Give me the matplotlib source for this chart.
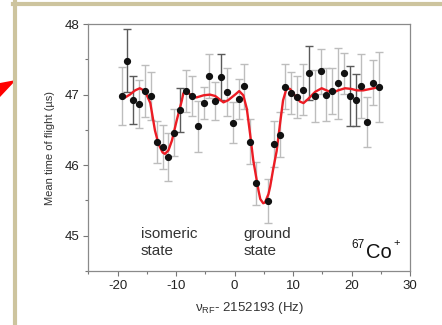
import numpy as np
import matplotlib
matplotlib.use("Agg")
import matplotlib.pyplot as plt
from matplotlib.patches import Polygon
from matplotlib.lines import Line2D
from matplotlib.ticker import MultipleLocator

plt.rcParams['font.family'] = ['Liberation Sans', 'DejaVu Sans']
plt.rcParams['mathtext.fontset'] = 'custom'
plt.rcParams['mathtext.rm'] = 'Liberation Sans'
plt.rcParams['mathtext.it'] = 'Liberation Sans:italic'
plt.rcParams['axes.unicode_minus'] = False

# measured points (frequency offset in Hz, mean TOF in us, error)
freq = [-19.3, -18.3, -17.3, -16.3, -15.3, -14.3, -13.3, -12.3, -11.3, -10.3,
        -9.3, -8.3, -7.3, -6.3, -5.3, -4.3, -3.3, -2.3, -1.3, -0.3,
        0.7, 1.7, 2.7, 3.7, 5.7, 6.7, 7.7, 8.7, 9.7,
        10.7, 11.7, 12.7, 13.7, 14.7, 15.7, 16.7, 17.7, 18.7, 19.7,
        20.7, 21.7, 22.7, 23.7, 24.7]
tof = [46.98, 47.48, 46.93, 46.87, 47.05, 46.98, 46.33, 46.26, 46.12, 46.46,
       46.78, 47.05, 46.98, 46.55, 46.88, 47.26, 46.91, 47.25, 47.03, 46.60,
       46.94, 47.12, 46.33, 45.74, 45.49, 46.30, 46.43, 47.11, 47.02,
       46.97, 47.07, 47.31, 46.98, 47.33, 47.00, 47.05, 47.16, 47.30, 46.98,
       46.92, 47.12, 46.61, 47.17, 47.11]
err = [0.41, 0.45, 0.34, 0.34, 0.37, 0.34, 0.30, 0.31, 0.34, 0.33,
       0.31, 0.30, 0.29, 0.36, 0.23, 0.31, 0.27, 0.33, 0.34, 0.29,
       0.28, 0.32, 0.32, 0.30, 0.31, 0.32, 0.32, 0.32, 0.30,
       0.30, 0.36, 0.38, 0.37, 0.32, 0.38, 0.33, 0.50, 0.29, 0.42,
       0.37, 0.45, 0.35, 0.32, 0.50]
dark = [1, 2, 10, 17, 31, 38, 39]

# fitted curve
fit_x = [-19.4, -18.7, -17.9, -17.0, -16.2, -15.3, -14.4, -13.6, -13.0, -12.3,
         -11.9, -11.3, -10.7, -9.9, -9.0, -8.75, -8.2, -7.3, -6.5, -5.3,
         -4.2, -3.3, -1.9, -1.1, 0.1, 0.8, 1.5, 2.1, 2.65, 3.2,
         4.1, 4.4, 4.9, 5.2, 5.8, 6.1, 6.6, 7.2, 7.8, 8.3,
         8.9, 9.5, 10.3, 11.2, 11.8, 12.6, 13.8, 14.9, 16.0, 16.9,
         17.7, 18.9, 20.0, 20.9, 22.0, 23.2, 24.9]
fit_y = [46.98, 46.96, 47.00, 47.06, 47.09, 47.05, 46.88, 46.49, 46.30, 46.18,
         46.16, 46.21, 46.35, 46.63, 46.92, 47.02, 47.05, 46.98, 46.96, 46.99,
         47.00, 46.98, 46.89, 46.92, 47.00, 47.05, 46.99, 46.80, 46.45, 46.07,
         45.64, 45.52, 45.46, 45.47, 45.59, 45.70, 45.94, 46.20, 46.60, 46.92,
         47.09, 47.08, 46.99, 46.90, 46.88, 46.94, 47.04, 47.09, 47.05, 47.03,
         47.06, 47.09, 47.08, 47.06, 47.06, 47.08, 47.11]

fig = plt.figure(figsize=(4.42, 3.25), dpi=100)
ax = fig.add_axes([0.1998, 0.1662, 0.7278, 0.7598])

f = np.array(freq)
t = np.array(tof)
e = np.array(err)
isdark = np.zeros(len(f), dtype=bool)
isdark[dark] = True

ax.errorbar(f[~isdark], t[~isdark], yerr=e[~isdark], fmt='none',
            ecolor='#bdbdbd', elinewidth=1.0, capsize=3, capthick=1.0, zorder=2)
ax.errorbar(f[isdark], t[isdark], yerr=e[isdark], fmt='none',
            ecolor='#5a5a5a', elinewidth=1.0, capsize=3, capthick=1.0, zorder=2)
ax.plot(f, t, 'o', color='#111111', ms=4.2, zorder=4)
ax.plot(fit_x, fit_y, '-', color='#ec1c24', lw=1.7, zorder=3)

ax.set_xlim(-25, 30)
ax.set_ylim(44.5, 48)
ax.xaxis.set_major_locator(MultipleLocator(10))
ax.xaxis.set_minor_locator(MultipleLocator(5))
ax.yaxis.set_major_locator(MultipleLocator(1))
ax.yaxis.set_minor_locator(MultipleLocator(0.5))
ax.tick_params(which='major', direction='out', length=3.5, width=0.8,
               color='#777777', labelsize=9.5, labelcolor='#222222', pad=3)
ax.tick_params(which='minor', direction='out', length=2, width=0.8, color='#777777')
for s in ax.spines.values():
    s.set_color('#8a8a8a')
    s.set_linewidth(0.9)

ax.set_ylabel('Mean time of flight (\u00b5s)', fontsize=8, color='#333333', labelpad=7)
ax.set_xlabel(r'$\mathregular{\nu_{RF}}$- 2152193 (Hz)', fontsize=9.5,
              color='#333333', labelpad=6)

ax.text(-16.0, 45.13, 'isomeric\nstate', fontsize=11, color='#333333',
        va='top', ha='left', linespacing=1.3)
ax.text(1.5, 45.13, 'ground\nstate', fontsize=11, color='#333333',
        va='top', ha='left', linespacing=1.3)
ax.text(0.863, 0.053, 'Co', transform=ax.transAxes, fontsize=14.5,
        color='#111111', va='baseline', ha='left')
ax.text(0.819, 0.094, '67', transform=ax.transAxes, fontsize=8.5,
        color='#111111', va='baseline', ha='left')
ax.text(0.948, 0.112, '+', transform=ax.transAxes, fontsize=8,
        color='#111111', va='center', ha='left')

# slide frame and arrow
W, H = 442.0, 325.0
beige = '#cdc49e'
fig.add_artist(Line2D([15 / W, 15 / W], [0, 1 - 2 / H], color=beige, lw=3,
                      transform=fig.transFigure))
fig.add_artist(Line2D([13 / W, 1], [1 - 3.5 / H, 1 - 3.5 / H], color=beige, lw=3,
                      transform=fig.transFigure))
fig.add_artist(Polygon([(0, 1 - 83 / H), (16 / W, 1 - 80 / H), (0, 1 - 97 / H)],
                       closed=True, facecolor='#ff0000', edgecolor='none',
                       transform=fig.transFigure))

fig.savefig('out.png', dpi=100)
